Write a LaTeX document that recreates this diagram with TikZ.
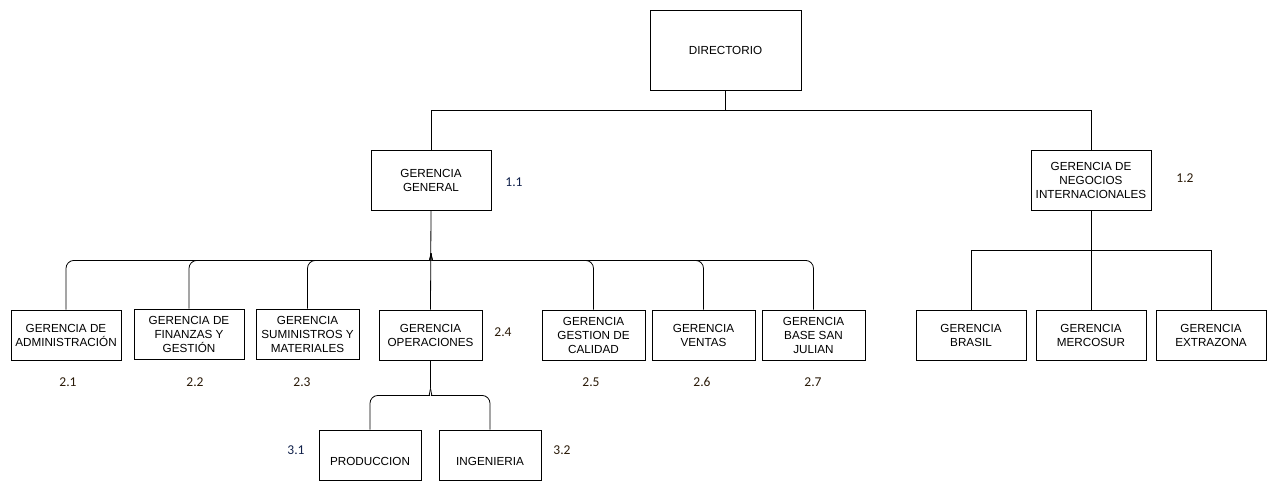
\documentclass[tikz,border=0pt]{standalone}
\usepackage{fontspec}
\setmainfont{Liberation Sans}
\newfontfamily\numfont{Carlito}
\usetikzlibrary{calc}
\definecolor{numbrown}{HTML}{2A1A08}
\definecolor{numblue}{HTML}{10204A}
\begin{document}
\begin{tikzpicture}[x=1pt,y=-1pt,
  unit/.style={draw=black, line width=0.8pt, fill=white, align=center,
    inner sep=1pt, font=\fontsize{11.7}{14}\selectfont},
  small/.style={unit, minimum width=110pt, minimum height=50pt},
  narrow/.style={unit, minimum width=103pt, minimum height=50pt},
  lowtext/.style={unit, minimum width=102pt, minimum height=50pt,
    text height=20pt, text depth=0pt},
  num/.style={font=\numfont\fontsize{13.5}{15}\selectfont, text=numbrown, inner sep=0pt},
  numb/.style={num, text=numblue},
  link/.style={line width=0.8pt, black},
  bracelink/.style={link, rounded corners=8pt}
]
\useasboundingbox (0,0) rectangle (1267,490);

% top level
\node[unit, minimum width=151pt, minimum height=80pt] (dir) at (725.5,50) {DIRECTORIO};
\node[unit, minimum width=120pt, minimum height=60pt] (gg) at (431,180) {GERENCIA\\GENERAL};
\node[unit, minimum width=120pt, minimum height=60pt] (gni) at (1091,180) {GERENCIA DE\\NEGOCIOS\\INTERNACIONALES};

% second level under the general management
\node[small]  (adm) at (66,335)  {GERENCIA DE\\ADMINISTRACIÓN};
\node[small]  (fin) at (189,334) {GERENCIA DE\\FINANZAS Y\\GESTIÓN};
\node[narrow] (sum) at (307.5,334) {GERENCIA\\SUMINISTROS Y\\MATERIALES};
\node[narrow] (ope) at (430.5,335) {GERENCIA\\OPERACIONES};
\node[narrow] (cal) at (593.5,335) {GERENCIA\\GESTION DE\\CALIDAD};
\node[narrow] (ven) at (703.5,335) {GERENCIA\\VENTAS};
\node[narrow] (bsj) at (813.5,335) {GERENCIA\\BASE SAN\\JULIAN};

% operations
\node[lowtext] (pro) at (370,455) {PRODUCCION};
\node[lowtext] (ing) at (490,455) {INGENIERIA};

% international business
\node[small] (bra) at (971,335)  {GERENCIA\\BRASIL};
\node[small] (mer) at (1091,335) {GERENCIA\\MERCOSUR};
\node[small] (ext) at (1211,335) {GERENCIA\\EXTRAZONA};

% reference numbers
\node[numb] (n11) at (514,182) {1.1};
\node[num]  (n12) at (1185,178) {1.2};
\node[num]  (n21) at (68,382)  {2.1};
\node[num]  (n22) at (195,382) {2.2};
\node[num]  (n23) at (302,382) {2.3};
\node[num]  (n24) at (503,332) {2.4};
\node[num]  (n25) at (591,382) {2.5};
\node[num]  (n26) at (702,382) {2.6};
\node[num]  (n27) at (813,382) {2.7};
\node[numb] (n31) at (296,450) {3.1};
\node[num]  (n32) at (562,450) {3.2};

% directory to managements
\coordinate (dj) at ($(dir.south)+(0,20)$);
\draw[link] (dir.south) -- (dj);
\draw[link] (gg.north) |- (dj) -| (gni.north);

% general management brace
\coordinate (gb) at ($(gg.south)+(0,50)$);
\coordinate (gt) at ($(gg.south)+(0,43)$);
\draw[link] (gg.south) -- (ope.north);
\foreach \c in {adm,fin,sum}
  \draw[bracelink] (\c.north) |- ($(gb)+(-9,0)$) .. controls ($(gb)+(-2,0)$) and ($(gt)+(0,3)$) .. (gt);
\foreach \c in {cal,ven,bsj}
  \draw[bracelink] (\c.north) |- ($(gb)+(9,0)$) .. controls ($(gb)+(2,0)$) and ($(gt)+(0,3)$) .. (gt);

% operations brace
\coordinate (ob) at ($(ope.south)+(0,35)$);
\coordinate (ot) at ($(ope.south)+(0,28)$);
\draw[link] (ope.south) -- (ot);
\draw[bracelink] (pro.north) |- ($(ob)+(-9,0)$) .. controls ($(ob)+(-2,0)$) and ($(ot)+(0,3)$) .. (ot);
\draw[bracelink] (ing.north) |- ($(ob)+(9,0)$) .. controls ($(ob)+(2,0)$) and ($(ot)+(0,3)$) .. (ot);

% international business tree
\coordinate (ij) at ($(gni.south)+(0,40)$);
\draw[link] (gni.south) -- (mer.north);
\draw[link] (bra.north) |- (ij) -| (ext.north);
\end{tikzpicture}
\end{document}
